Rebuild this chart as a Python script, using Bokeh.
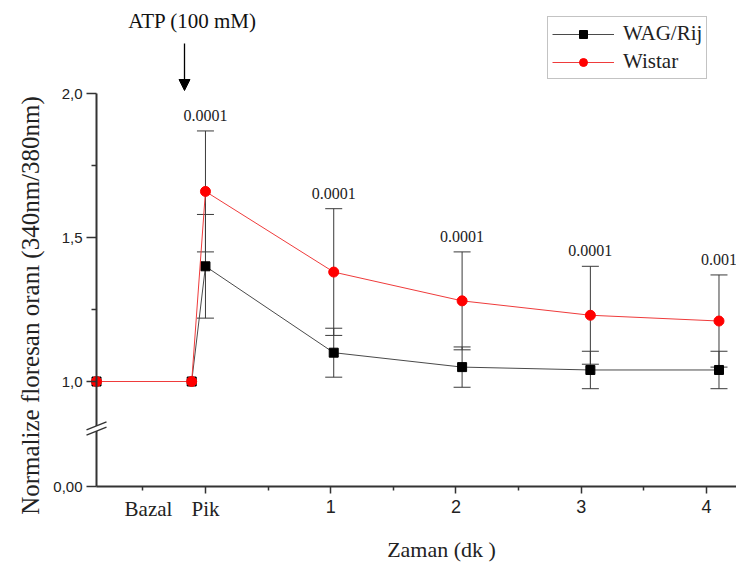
import math
from bokeh.plotting import figure
from bokeh.models import (ColumnDataSource, FixedTicker, CustomJSTickFormatter, Label, LabelSet,
                          Arrow, NormalHead, BoxAnnotation, Legend, LegendItem, Range1d)
from bokeh.embed import file_html
from bokeh.resources import INLINE

# ---------------- data ----------------
TIME = [-0.87, -0.11, 0.0, 1.024, 2.049, 3.073, 4.10]          # Bazal, baseline, Pik, 1..4 dk
WAG_MEAN = [1.0, 1.0, 1.40, 1.10, 1.05, 1.04, 1.04]
WAG_SD = [0.0, 0.0, 0.18, 0.085, 0.07, 0.065, 0.065]
WISTAR_MEAN = [1.0, 1.0, 1.66, 1.38, 1.28, 1.23, 1.21]
WISTAR_SD = [0.0, 0.0, 0.21, 0.22, 0.17, 0.17, 0.16]
P_VALUES = ["", "", "0.0001", "0.0001", "0.0001", "0.0001", "0.001"]
X_TICKS = [0, 1, 2, 3, 4]
X_MINOR = [-0.5, 0.5, 1.5, 2.5, 3.5]
CAT_LABELS = ["Bazal", "Pik"]
Y_TICKS = [1.0, 1.5, 2.0]
Y_MINOR = [1.25, 1.75]

SERIF = "Liberation Serif"
SANS = "Liberation Sans"

# ---------------- layout (frame covers the whole canvas, axes at fixed locations) ----------------
W, H = 736, 565
AX_LEFT_PX, Y2_PX, Y0_PX = 96, 93, 486      # y-axis position, "2,0" and "0,00" heights
PX_PER_X = 125.25
PX_PER_Y = 288.0
X0 = TIME[0]                                 # y axis sits at the Bazal point
Y1 = 2.0
Y0 = Y1 - (Y0_PX - Y2_PX) / PX_PER_Y         # display position of "0,00" (broken axis)

def xpx(px):   # canvas pixel x -> data x
    return X0 + (px - AX_LEFT_PX) / PX_PER_X

def ypx(py):   # canvas pixel y -> display y
    return Y1 - (py - Y2_PX) / PX_PER_Y

p = figure(width=W, height=H, output_backend="svg", toolbar_location=None,
           x_range=Range1d(xpx(0), xpx(W)), y_range=Range1d(ypx(H), ypx(0)),
           min_border=0)
p.title.visible = False
p.outline_line_color = None
p.xgrid.visible = False
p.ygrid.visible = False
p.background_fill_color = "white"
p.border_fill_color = "white"

# axes
xa = p.xaxis[0]
xa.fixed_location = Y0
xa.bounds = (X0, xpx(W))
xa.ticker = FixedTicker(ticks=X_TICKS, minor_ticks=X_MINOR)
xa.formatter = CustomJSTickFormatter(code="return tick == 0 ? '' : tick.toFixed(0);")
xa.axis_line_width = 2
xa.axis_line_color = "#333333"
xa.major_tick_line_color = "#333333"
xa.minor_tick_line_color = "#333333"
xa.major_tick_line_width = 1.5
xa.minor_tick_line_width = 1.5
xa.major_tick_in = 0
xa.major_tick_out = 7
xa.minor_tick_in = 0
xa.minor_tick_out = 4
xa.major_label_text_font = SANS
xa.major_label_text_font_size = "18px"
xa.major_label_text_color = "#222222"
xa.major_label_standoff = 6

ya = p.yaxis[0]
ya.fixed_location = X0
ya.bounds = (Y0, Y1)
ya.ticker = FixedTicker(ticks=[Y0] + Y_TICKS, minor_ticks=Y_MINOR)
ya.formatter = CustomJSTickFormatter(args=dict(z=Y0),
    code="if (Math.abs(tick - z) < 1e-6) { return '0,00'; } return tick.toFixed(1).replace('.', ',');")
ya.axis_line_width = 2
ya.axis_line_color = "#333333"
ya.major_tick_line_color = "#333333"
ya.minor_tick_line_color = "#333333"
ya.major_tick_line_width = 1.5
ya.minor_tick_line_width = 1.5
ya.major_tick_in = 0
ya.major_tick_out = 10
ya.minor_tick_in = 0
ya.minor_tick_out = 5
ya.major_label_text_font = SANS
ya.major_label_text_font_size = "15px"
ya.major_label_text_color = "#222222"
ya.major_label_standoff = 4

# ---------------- data glyphs ----------------
def err_source(means, sds):
    xs = [t for t, s in zip(TIME, sds) if s > 0]
    lo = [m - s for m, s in zip(means, sds) if s > 0]
    hi = [m + s for m, s in zip(means, sds) if s > 0]
    return ColumnDataSource(dict(x=xs, lo=lo, hi=hi))

ERR_COLOR = "#3a3a3a"
wag_src = ColumnDataSource(dict(x=TIME, y=WAG_MEAN))
wis_src = ColumnDataSource(dict(x=TIME, y=WISTAR_MEAN))
wag_err = err_source(WAG_MEAN, WAG_SD)
wis_err = err_source(WISTAR_MEAN, WISTAR_SD)

for es in (wag_err, wis_err):
    p.segment(x0="x", y0="lo", x1="x", y1="hi", source=es, line_color=ERR_COLOR, line_width=1)
    p.scatter(x="x", y="lo", source=es, marker="dash", size=17, line_color=ERR_COLOR, line_width=1)
    p.scatter(x="x", y="hi", source=es, marker="dash", size=17, line_color=ERR_COLOR, line_width=1)

wag_line = p.line(x="x", y="y", source=wag_src, line_color="#4a4a4a", line_width=1)
wag_pts = p.scatter(x="x", y="y", source=wag_src, marker="square", size=9,
                    fill_color="black", line_color="black")
wis_line = p.line(x="x", y="y", source=wis_src, line_color="#ef3b3b", line_width=1)
wis_pts = p.scatter(x="x", y="y", source=wis_src, marker="circle", size=10,
                    fill_color="#ff0000", line_color="#ff0000")

# p-values above the Wistar error bars
pv_idx = [i for i, t in enumerate(P_VALUES) if t]
pv_src = ColumnDataSource(dict(x=[TIME[i] for i in pv_idx],
                               y=[WISTAR_MEAN[i] + WISTAR_SD[i] for i in pv_idx],
                               t=[P_VALUES[i] for i in pv_idx]))
p.add_layout(LabelSet(x="x", y="y", text="t", source=pv_src, y_offset=10,
                      text_align="center", text_baseline="bottom",
                      text_font=SERIF, text_font_size="16px", text_color="#222222"))

# category labels on x axis
p.add_layout(Label(x=xpx(148), y=ypx(508), text=CAT_LABELS[0], text_align="center",
                   text_baseline="middle", text_font=SERIF, text_font_size="21px",
                   text_color="#222222"))
p.add_layout(Label(x=0.0, y=ypx(508), text=CAT_LABELS[1], text_align="center",
                   text_baseline="middle", text_font=SERIF, text_font_size="21px",
                   text_color="#222222"))

# axis titles
p.add_layout(Label(x=xpx(441), y=ypx(549), text="Zaman (dk )", text_align="center",
                   text_baseline="middle", text_font=SERIF, text_font_size="22px",
                   text_color="#222222"))
p.add_layout(Label(x=xpx(30), y=ypx(305), text="Normalize floresan oranı (340nm/380nm)",
                   angle=math.pi / 2, text_align="center", text_baseline="middle",
                   text_font=SERIF, text_font_size="25px", text_color="#222222"))

# ATP annotation
p.add_layout(Label(x=xpx(192), y=ypx(20), text="ATP (100 mM)", text_align="center",
                   text_baseline="middle", text_font=SERIF, text_font_size="21px",
                   text_color="#111111"))
p.add_layout(Arrow(end=NormalHead(size=11, fill_color="black", line_color="black"),
                   x_start=xpx(184), y_start=ypx(43), x_end=xpx(184), y_end=ypx(90),
                   line_color="black", line_width=1.3))

# axis break marks
bc = ypx(428)
dx = 10 / PX_PER_X
dy = 4 / PX_PER_Y
gap = 2.6 / PX_PER_Y
p.add_layout(BoxAnnotation(left=X0 - 3 / PX_PER_X, right=X0 + 3 / PX_PER_X,
                           bottom=bc - gap, top=bc + gap, fill_color="white",
                           fill_alpha=1, line_color=None))
for s in (-gap, gap):
    p.add_layout(Arrow(end=None, x_start=X0 - dx, y_start=bc + s - dy,
                       x_end=X0 + dx, y_end=bc + s + dy, line_color="#333333", line_width=1.5))

# legend (location = bottom-left corner, pixels from the frame's bottom-left)
legend = Legend(items=[LegendItem(label="WAG/Rij", renderers=[wag_line, wag_pts]),
                       LegendItem(label="Wistar", renderers=[wis_line, wis_pts])],
                location=(547, H - 79), border_line_color="#888888", border_line_width=1,
                label_text_font=SERIF, label_text_font_size="21px", label_text_color="#222222",
                glyph_width=62, glyph_height=20, label_height=20, label_standoff=9,
                spacing=3, padding=4, margin=0, background_fill_alpha=1)
p.add_layout(legend)

open("out.html", "w").write(file_html(p, INLINE))
